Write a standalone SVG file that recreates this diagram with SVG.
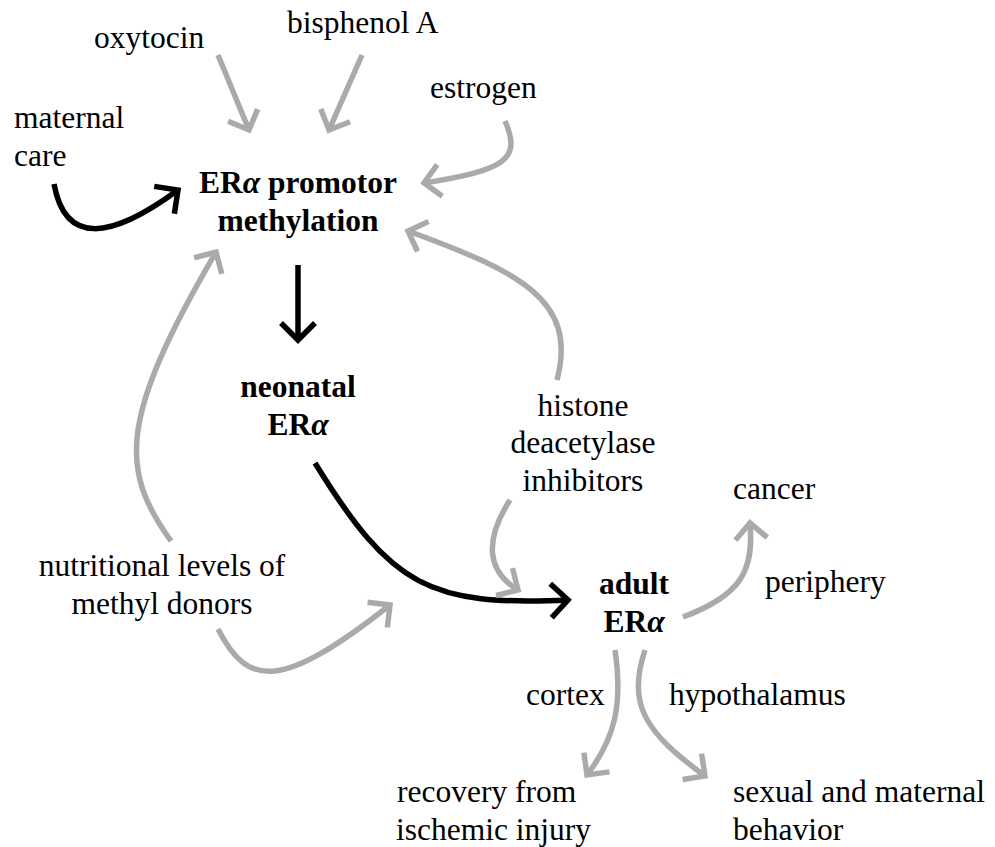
<svg xmlns="http://www.w3.org/2000/svg" width="995" height="847" viewBox="0 0 995 847">
<style>
text{font-family:"Liberation Serif","Times New Roman",serif;font-size:31.5px;fill:#000}
.b{font-weight:bold}
.m{text-anchor:middle}
.g{fill:none;stroke:#aaaaaa;stroke-width:5.5}
.k{fill:none;stroke:#000;stroke-width:5.5}
</style>
<defs>
<marker id="ag" markerUnits="userSpaceOnUse" orient="auto" markerWidth="40" markerHeight="40" refX="0" refY="0" viewBox="-30 -20 40 40" overflow="visible">
<path d="M-16,-16 L0,0 L-16,16" fill="none" stroke="#aaaaaa" stroke-width="5.5"/>
</marker>
<marker id="ak" markerUnits="userSpaceOnUse" orient="auto" markerWidth="40" markerHeight="40" refX="0" refY="0" viewBox="-30 -20 40 40" overflow="visible">
<path d="M-17,-17 L0,0 L-17,17" fill="none" stroke="#000" stroke-width="5.5"/>
</marker>
</defs>
<g id="connectors">
<path class="g" d="M218,55 L249,130" marker-end="url(#ag)"/>
<path class="g" d="M362,55 L329,130" marker-end="url(#ag)"/>
<path class="g" d="M505,121 C522,160 505,170 424,183" marker-end="url(#ag)"/>
<path class="g" d="M557,380 C578,300 520,272 408,231" marker-end="url(#ag)"/>
<path class="k" d="M54,184 C65,245 110,240 178,190" marker-end="url(#ak)"/>
<path class="k" d="M298,265 L298,340" marker-end="url(#ak)"/>
<path class="g" d="M171,541 C120,470 118,420 216,252" marker-end="url(#ag)"/>
<path class="g" d="M218,629 C248,688 282,690 390,605" marker-end="url(#ag)"/>
<path class="k" d="M315,463 C392,588 430,606 568,600" marker-end="url(#ak)"/>
<path class="g" d="M510,500 C483,542 488,572 518,590" marker-end="url(#ag)"/>
<path class="g" d="M683,617 C742,595 754,570 750,523" marker-end="url(#ag)"/>
<path class="g" d="M615,650 C623,705 615,738 587,775" marker-end="url(#ag)"/>
<path class="g" d="M645,650 C627,705 645,732 705,776" marker-end="url(#ag)"/>
</g>
<g id="oxytocin"><text x="94" y="48">oxytocin</text></g>
<g id="bisphenol"><text x="287" y="33">bisphenol A</text></g>
<g id="estrogen"><text x="430" y="98">estrogen</text></g>
<g id="maternal-care"><text x="14" y="128">maternal</text><text x="14" y="166">care</text></g>
<g id="methylation"><text class="b m" x="298" y="193">ER<tspan font-style="italic">α</tspan> promotor</text><text class="b m" x="298" y="231">methylation</text></g>
<g id="neonatal"><text class="b m" x="298" y="397">neonatal</text><text class="b m" x="298" y="435">ER<tspan font-style="italic">α</tspan></text></g>
<g id="hdac"><text class="m" x="583" y="416">histone</text><text class="m" x="583" y="453">deacetylase</text><text class="m" x="583" y="491">inhibitors</text></g>
<g id="cancer"><text x="733" y="499">cancer</text></g>
<g id="adult"><text class="b m" x="634" y="594">adult</text><text class="b m" x="634" y="632">ER<tspan font-style="italic">α</tspan></text></g>
<g id="periphery"><text x="765" y="592">periphery</text></g>
<g id="nutrition"><text class="m" x="162" y="576">nutritional levels of</text><text class="m" x="162" y="614">methyl donors</text></g>
<g id="cortex"><text x="526" y="705">cortex</text></g>
<g id="hypothalamus"><text x="669" y="705">hypothalamus</text></g>
<g id="recovery"><text x="397" y="802">recovery from</text><text x="396" y="840">ischemic injury</text></g>
<g id="behavior"><text x="733" y="802">sexual and maternal</text><text x="733" y="840">behavior</text></g>
</svg>
